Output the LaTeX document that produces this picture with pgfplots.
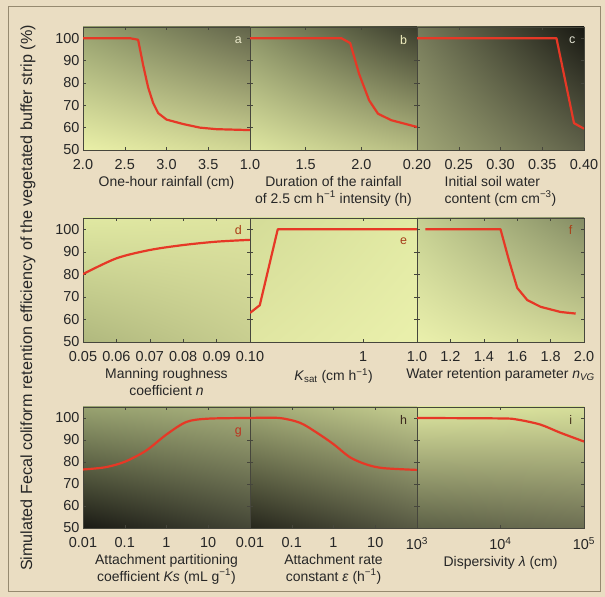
\documentclass[border=0pt]{standalone}
\usepackage{pgfplots}
\pgfplotsset{compat=1.18}
\usetikzlibrary{shadings}
\usepackage{fontspec}
\setmainfont{Liberation Sans}
\definecolor{paper}{RGB}{234,221,194}
\definecolor{framec}{RGB}{150,138,112}
\definecolor{linered}{RGB}{230,56,38}
\definecolor{axgray}{RGB}{70,70,60}
% panel a
\definecolor{aUL}{RGB}{150,160,110}\definecolor{aUR}{RGB}{98,100,74}\definecolor{aLL}{RGB}{234,240,168}\definecolor{aLR}{RGB}{208,214,148}
% b
\definecolor{bUL}{RGB}{138,146,102}\definecolor{bUR}{RGB}{58,60,44}\definecolor{bLL}{RGB}{222,230,160}\definecolor{bLR}{RGB}{182,188,130}
% c
\definecolor{cUL}{RGB}{118,122,90}\definecolor{cUR}{RGB}{24,24,18}\definecolor{cLL}{RGB}{160,166,118}\definecolor{cLR}{RGB}{96,98,74}
% d
\definecolor{dUL}{RGB}{224,232,162}\definecolor{dUR}{RGB}{222,228,160}\definecolor{dLL}{RGB}{176,184,126}\definecolor{dLR}{RGB}{200,206,144}
% e
\definecolor{eUL}{RGB}{212,220,152}\definecolor{eUR}{RGB}{226,234,164}\definecolor{eLL}{RGB}{224,230,162}\definecolor{eLR}{RGB}{234,240,172}
% f
\definecolor{fUL}{RGB}{198,208,146}\definecolor{fUR}{RGB}{132,140,100}\definecolor{fLL}{RGB}{234,240,172}\definecolor{fLR}{RGB}{210,216,152}
% g
\definecolor{gUL}{RGB}{152,162,112}\definecolor{gUR}{RGB}{168,176,124}\definecolor{gLL}{RGB}{26,26,20}\definecolor{gLR}{RGB}{68,70,54}
% h
\definecolor{hUL}{RGB}{162,170,118}\definecolor{hUR}{RGB}{198,206,144}\definecolor{hLL}{RGB}{38,38,28}\definecolor{hLR}{RGB}{88,90,68}
% i
\definecolor{iUL}{RGB}{222,230,160}\definecolor{iUR}{RGB}{214,222,154}\definecolor{iLL}{RGB}{92,96,70}\definecolor{iLR}{RGB}{108,110,82}
\definecolor{labA}{RGB}{232,230,200}\definecolor{labB}{RGB}{240,238,190}\definecolor{labC}{RGB}{225,225,210}
\definecolor{labD}{RGB}{170,60,20}\definecolor{labE}{RGB}{165,60,25}\definecolor{labF}{RGB}{170,65,25}
\definecolor{labG}{RGB}{190,50,30}\definecolor{labH}{RGB}{60,40,30}\definecolor{labI}{RGB}{70,50,30}
\tikzset{plabel/.style={font=\fontsize{12.5}{14}\selectfont}}
\pgfplotsset{
  panel/.style={
    scale only axis, width=167bp, anchor=north west,
    ymin=50, ymax=105, ytick={50,60,70,80,90,100},
    axis line style={axgray, line width=0.6pt},
    tick style={axgray, line width=0.4pt}, tick align=inside,
    major tick length=3pt,
    xminorticks=false, yminorticks=false,
    every tick label/.append style={font=\fontsize{14.5}{16}\selectfont, text=black!85},
    xticklabel style={yshift=-6bp},
    /pgf/number format/assume math mode=true,
    every axis x label/.append style={font=\fontsize{14}{16.5}\selectfont, text=black!85, align=center},
    clip=true,
  },
  bg/.style={axis background/.style={shade, upper left=#1UL, upper right=#1UR, lower left=#1LL, lower right=#1LR}},
  noy/.style={yticklabels={}},
  redline/.style={color=linered, line width=2.2bp, no marks, line join=round},
}
\begin{document}
\begin{tikzpicture}[x=1bp,y=1bp]
\fill[paper] (0,0) rectangle (605,597);
\draw[framec, line width=0.8pt] (8,6) rectangle (600,591);
\useasboundingbox (0,0) rectangle (605,597);

% ---------- Row 1 ----------
\begin{axis}[panel, bg=a, height=123bp, at={(83bp,570bp)},
  xmin=2, xmax=4, xtick={2,2.5,3,3.5,4}, xticklabels={2.0,2.5,3.0,3.5,},
  xlabel={One-hour rainfall (cm)}]
\addplot[redline] coordinates {(2.0,100) (2.56,100) (2.66,99.3) (2.72,88) (2.78,78) (2.84,71) (2.9,66.5) (3.0,63.6) (3.2,61.6) (3.4,60) (3.6,59.3) (4.0,58.9)};
\node[plabel, text=labA] at (rel axis cs:0.93,0.89) {a};
\end{axis}

\begin{axis}[panel, bg=b, noy, height=123bp, at={(250bp,570bp)},
  xmin=1, xmax=2.5, xtick={1,1.5,2,2.5}, xticklabels={1.0,1.5,2.0,},
  xlabel={Duration of the rainfall\\of 2.5 cm h\textsuperscript{−1} intensity (h)}]
\addplot[redline] coordinates {(1.0,100) (1.82,100) (1.9,97.8) (1.98,84) (2.07,72.2) (2.15,66.2) (2.27,63.3) (2.5,60.3)};
\node[plabel, text=labB] at (rel axis cs:0.92,0.89) {b};
\end{axis}

\begin{axis}[panel, bg=c, noy, height=123bp, at={(417bp,570bp)},
  xmin=0.2, xmax=0.4, xtick={0.2,0.25,0.3,0.35,0.4}, xticklabels={0.20,0.25,0.30,0.35,0.40},
  xlabel={Initial soil water\\content (cm cm\textsuperscript{−3})},
  xlabel style={align=left}]
\addplot[redline] coordinates {(0.2,100) (0.367,100) (0.388,62) (0.4,59.5)};
\node[plabel, text=labC] at (rel axis cs:0.93,0.89) {c};
\end{axis}

% ---------- Row 2 ----------
\begin{axis}[panel, bg=d, height=124bp, at={(83bp,379bp)},
  xmin=0.05, xmax=0.1, xtick={0.05,0.06,0.07,0.08,0.09,0.1}, xticklabels={0.05,0.06,0.07,0.08,0.09,0.10},
  xlabel={Manning roughness\\coefficient \textit{n}}]
\addplot[redline, smooth] coordinates {(0.05,80.1) (0.06,87.1) (0.07,90.8) (0.08,93) (0.09,94.5) (0.1,95.3)};
\node[plabel, text=labD] at (rel axis cs:0.93,0.9) {d};
\end{axis}

\begin{axis}[panel, bg=e, noy, height=124bp, at={(250bp,379bp)},
  xmode=log, xmin=0.1, xmax=3, xtick={0.1,1}, xticklabels={,1},
  xlabel={\textit{K}\textsubscript{sat} (cm h\textsuperscript{−1})}]
\addplot[redline] coordinates {(0.1,62.9) (0.122,66.3) (0.176,100) (3,100)};
\node[plabel, text=labE] at (rel axis cs:0.92,0.81) {e};
\end{axis}

\begin{axis}[panel, bg=f, noy, height=124bp, at={(417bp,379bp)},
  xmin=1, xmax=2, xtick={1,1.2,1.4,1.6,1.8,2}, xticklabels={1.0,1.2,1.4,1.6,1.8,2.0},
  xlabel={Water retention parameter \textit{n}\textsubscript{\textit{VG}}}]
\addplot[redline] coordinates {(1.05,100) (1.5,100) (1.55,86.4) (1.6,74) (1.66,68.6) (1.74,65.6) (1.86,63.3) (1.95,62.6)};
\node[plabel, text=labF] at (rel axis cs:0.92,0.9) {f};
\end{axis}

% ---------- Row 3 ----------
\begin{axis}[panel, bg=g, height=121bp, at={(83bp,190bp)},
  xmode=log, xmin=0.01, xmax=100, xtick={0.01,0.1,1,10,100}, xticklabels={0.01,0.1,1,10,},
  xlabel={Attachment partitioning\\coefficient \textit{Ks} (mL g\textsuperscript{−1})}]
\addplot[redline, smooth] coordinates {(0.01,76.6) (0.034,77.6) (0.1,80.1) (0.32,85.1) (1,92.5) (3,98.2) (10,99.7) (100,100)};
\node[plabel, text=labG] at (rel axis cs:0.93,0.79) {g};
\end{axis}

\begin{axis}[panel, bg=h, noy, height=121bp, at={(250bp,190bp)},
  xmode=log, xmin=0.01, xmax=100, xtick={0.01,0.1,1,10,100}, xticklabels={0.01,0.1,1,10,},
  xlabel={Attachment rate\\constant \textit{ε} (h\textsuperscript{−1})}]
\addplot[redline, smooth] coordinates {(0.01,100) (0.05,100) (0.158,97.8) (0.4,93.3) (1,88.1) (2.5,82.1) (6.3,78.8) (15.8,77.2) (100,76.4)};
\node[plabel, text=labH] at (rel axis cs:0.92,0.89) {h};
\end{axis}

\begin{axis}[panel, bg=i, noy, height=121bp, at={(417bp,190bp)},
  xmode=log, xmin=1000, xmax=100000, xtick={1000,10000,100000}, xticklabels={10\textsuperscript{3},10\textsuperscript{4},10\textsuperscript{5}},
  xlabel={Dispersivity \textit{λ} (cm)}]
\addplot[redline, smooth] coordinates {(1000,100) (10000,99.8) (15800,99.3) (30000,97) (52000,93.3) (100000,89.3)};
\node[plabel, text=labI] at (rel axis cs:0.92,0.89) {i};
\end{axis}

\node[rotate=90, font=\fontsize{16.2}{18}\selectfont, text=black!85] at (28,299) {Simulated Fecal coliform retention efficiency of the vegetated buffer strip (\%)};
\end{tikzpicture}
\end{document}
